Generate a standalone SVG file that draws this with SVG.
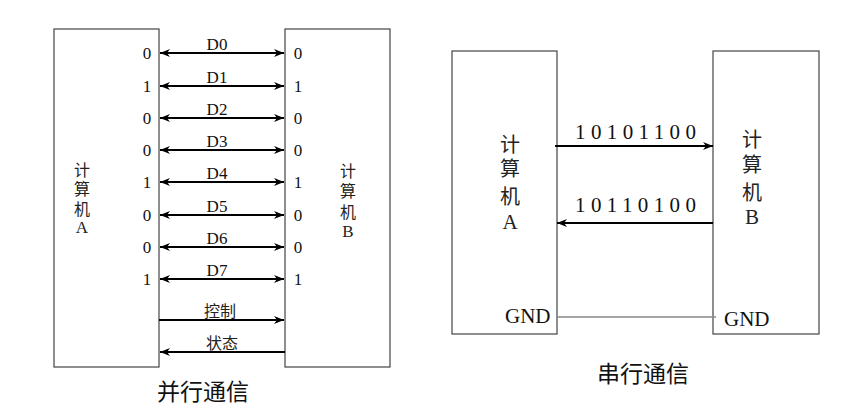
<svg xmlns="http://www.w3.org/2000/svg" width="843" height="417" viewBox="0 0 843 417">
<style>
.box{fill:#fff;stroke:#444;stroke-width:1.2}
.ln{stroke:#000;stroke-width:2;fill:none}
.num{font-family:"Liberation Serif",serif;fill:#111;font-size:17px;text-anchor:middle}
.c{font-family:"Noto Sans CJK SC",sans-serif;fill:#222;font-size:16px;text-anchor:middle}
.c2{font-family:"Noto Sans CJK SC",sans-serif;fill:#222;font-size:20px;text-anchor:middle}
.ser{font-family:"Liberation Serif",serif}
.lab{font-family:"Liberation Serif",serif;fill:#111;font-size:17px;text-anchor:middle}
.title{font-family:"Noto Sans CJK SC",sans-serif;fill:#111;font-size:23px;text-anchor:middle}
.bits{font-family:"Liberation Serif",serif;fill:#111;font-size:21px;letter-spacing:5.4px}
.gnd{font-family:"Liberation Serif",serif;fill:#111;font-size:21px}
</style>
<defs>
<marker id="ah" viewBox="0 0 10 10" refX="10" refY="5" markerWidth="5" markerHeight="5" orient="auto-start-reverse" markerUnits="strokeWidth">
<path d="M0,1 L10,5 L0,9 L3,5 z" fill="#000"/>
</marker>
</defs>
<rect width="843" height="417" fill="#fff"/>

<g id="pA">
<rect class="box" x="54" y="29" width="105" height="338"/>
<text class="c"><tspan x="82" y="176">计</tspan><tspan x="82" y="195">算</tspan><tspan x="82" y="215">机</tspan><tspan class="ser" x="82" y="233" font-size="17">A</tspan></text>
<g class="num">
<text x="147" y="59">0</text>
<text x="147" y="92">1</text>
<text x="147" y="124">0</text>
<text x="147" y="156">0</text>
<text x="147" y="188">1</text>
<text x="147" y="221">0</text>
<text x="147" y="253">0</text>
<text x="147" y="285">1</text>
</g>
</g>

<g id="pB">
<rect class="box" x="285" y="29" width="105" height="338"/>
<text class="c"><tspan x="348" y="177">计</tspan><tspan x="348" y="197">算</tspan><tspan x="348" y="218">机</tspan><tspan class="ser" x="348" y="237" font-size="17">B</tspan></text>
<g class="num">
<text x="298" y="59">0</text>
<text x="298" y="92">1</text>
<text x="298" y="124">0</text>
<text x="298" y="156">0</text>
<text x="298" y="188">1</text>
<text x="298" y="221">0</text>
<text x="298" y="253">0</text>
<text x="298" y="285">1</text>
</g>
</g>

<g id="pconn">
<line class="ln" x1="160" y1="53" x2="284" y2="53" marker-start="url(#ah)" marker-end="url(#ah)"/>
<line class="ln" x1="160" y1="86" x2="284" y2="86" marker-start="url(#ah)" marker-end="url(#ah)"/>
<line class="ln" x1="160" y1="118" x2="284" y2="118" marker-start="url(#ah)" marker-end="url(#ah)"/>
<line class="ln" x1="160" y1="150" x2="284" y2="150" marker-start="url(#ah)" marker-end="url(#ah)"/>
<line class="ln" x1="160" y1="182" x2="284" y2="182" marker-start="url(#ah)" marker-end="url(#ah)"/>
<line class="ln" x1="160" y1="215" x2="284" y2="215" marker-start="url(#ah)" marker-end="url(#ah)"/>
<line class="ln" x1="160" y1="247" x2="284" y2="247" marker-start="url(#ah)" marker-end="url(#ah)"/>
<line class="ln" x1="160" y1="279" x2="284" y2="279" marker-start="url(#ah)" marker-end="url(#ah)"/>
<line class="ln" x1="159" y1="320" x2="284" y2="320" marker-end="url(#ah)"/>
<line class="ln" x1="285" y1="352" x2="160" y2="352" marker-end="url(#ah)"/>
<text class="lab" x="217" y="50">D0</text>
<text class="lab" x="217" y="83">D1</text>
<text class="lab" x="217" y="115">D2</text>
<text class="lab" x="217" y="147">D3</text>
<text class="lab" x="217" y="179">D4</text>
<text class="lab" x="217" y="212">D5</text>
<text class="lab" x="217" y="244">D6</text>
<text class="lab" x="217" y="276">D7</text>
<text class="c" x="220" y="317">控制</text>
<text class="c" x="222" y="349">状态</text>
</g>
<text class="title" x="203" y="400">并行通信</text>

<g id="sA">
<rect class="box" x="452" y="51" width="105" height="283"/>
<text class="c2"><tspan x="510" y="152">计</tspan><tspan x="510" y="176">算</tspan><tspan x="510" y="204">机</tspan><tspan class="ser" x="510" y="229" font-size="21">A</tspan></text>
<text class="gnd" x="505" y="323">GND</text>
</g>

<g id="sB">
<rect class="box" x="713" y="51" width="106" height="283"/>
<text class="c2"><tspan x="752" y="147">计</tspan><tspan x="752" y="172">算</tspan><tspan x="752" y="200">机</tspan><tspan class="ser" x="752" y="224" font-size="21">B</tspan></text>
<text class="gnd" x="724" y="326">GND</text>
</g>

<g id="sconn">
<line class="ln" x1="555" y1="146" x2="713" y2="146" marker-end="url(#ah)"/>
<line class="ln" x1="713" y1="223" x2="557" y2="223" marker-end="url(#ah)"/>
<line x1="558" y1="317" x2="716" y2="317" stroke="#888" stroke-width="1.5"/>
<text class="bits" x="575" y="139">10101100</text>
<text class="bits" x="575" y="212">10110100</text>
</g>
<text class="title" x="643" y="382">串行通信</text>
</svg>
